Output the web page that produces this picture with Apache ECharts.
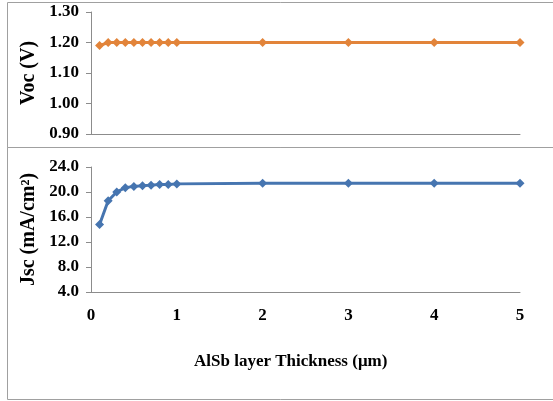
<!DOCTYPE html>
<html><head><meta charset="utf-8">
<script src="https://cdn.jsdelivr.net/npm/echarts@6/dist/echarts.min.js"></script>
<style>html,body{margin:0;padding:0;background:#fff}#c{width:553px;height:401px}</style>
</head><body><div id="c"></div>
<script>
const thickness = [0.1,0.2,0.3,0.4,0.5,0.6,0.7,0.8,0.9,1,2,3,4,5];
const voc = [1.19,1.20,1.20,1.20,1.20,1.20,1.20,1.20,1.20,1.20,1.20,1.20,1.20,1.20];
const jsc = [14.8,18.6,20.0,20.7,20.9,21.0,21.1,21.2,21.2,21.3,21.4,21.4,21.4,21.4];
const vocTicks = ['0.90','1.00','1.10','1.20','1.30'];
const jscTicks = ['4.0','8.0','12.0','16.0','20.0','24.0'];
const xTitle = 'AlSb layer Thickness (μm)';

const font = 'Liberation Serif';
const axisCol = '#8c8c8c';
const chart = echarts.init(document.getElementById('c'));
const pairs = a => thickness.map((x,i)=>[x,a[i]]);
chart.setOption({
  animation:false,
  graphic:[
    {type:'rect',shape:{x:7.5,y:2.5,width:560,height:145},style:{fill:'none',stroke:'#a0a0a0',lineWidth:1},silent:true,z:-1},
    {type:'rect',shape:{x:7.5,y:147.5,width:560,height:252},style:{fill:'none',stroke:'#a0a0a0',lineWidth:1},silent:true,z:-1},
    {type:'text',left:194,top:353,style:{text:xTitle,font:'bold 17px "Liberation Serif"',fill:'#000'}}
  ],
  grid:[
    {left:91,top:12,width:429,height:122},
    {left:91,top:167,width:429,height:125}
  ],
  xAxis:[
    {gridIndex:0,type:'value',min:0,max:5,interval:1,axisLine:{lineStyle:{color:axisCol}},axisTick:{show:false},axisLabel:{show:false},splitLine:{show:false}},
    {gridIndex:1,type:'value',min:0,max:5,interval:1,axisLine:{lineStyle:{color:axisCol}},axisTick:{show:false},
     axisLabel:{color:'#000',fontFamily:font,fontWeight:'bold',fontSize:17,margin:15},splitLine:{show:false}}
  ],
  yAxis:[
    {gridIndex:0,type:'value',min:0.9,max:1.3,interval:0.1,
     name:'Voc (V)',nameLocation:'middle',nameGap:48,nameTextStyle:{color:'#000',fontFamily:font,fontWeight:'bold',fontSize:20},
     axisLine:{show:true,lineStyle:{color:axisCol}},axisTick:{show:true,length:5,lineStyle:{color:axisCol}},
     axisLabel:{color:'#000',fontFamily:font,fontWeight:'bold',fontSize:17,margin:12,formatter:(v)=>vocTicks[Math.round((v-0.9)*10)]},splitLine:{show:false}},
    {gridIndex:1,type:'value',min:4,max:24,interval:4,
     name:'Jsc (mA/cm²)',nameLocation:'middle',nameGap:48,nameTextStyle:{color:'#000',fontFamily:font,fontWeight:'bold',fontSize:20},
     axisLine:{show:true,lineStyle:{color:axisCol}},axisTick:{show:true,length:5,lineStyle:{color:axisCol}},
     axisLabel:{color:'#000',fontFamily:font,fontWeight:'bold',fontSize:17,margin:12,formatter:(v)=>jscTicks[Math.round((v-4)/4)]},splitLine:{show:false}}
  ],
  series:[
    {type:'line',xAxisIndex:0,yAxisIndex:0,data:pairs(voc),symbol:'diamond',symbolSize:9,
     lineStyle:{color:'#e2843a',width:3},itemStyle:{color:'#e2843a'}},
    {type:'line',xAxisIndex:1,yAxisIndex:1,data:pairs(jsc),symbol:'diamond',symbolSize:9,
     lineStyle:{color:'#4675b0',width:3},itemStyle:{color:'#4675b0'}}
  ]
});
</script></body></html>
